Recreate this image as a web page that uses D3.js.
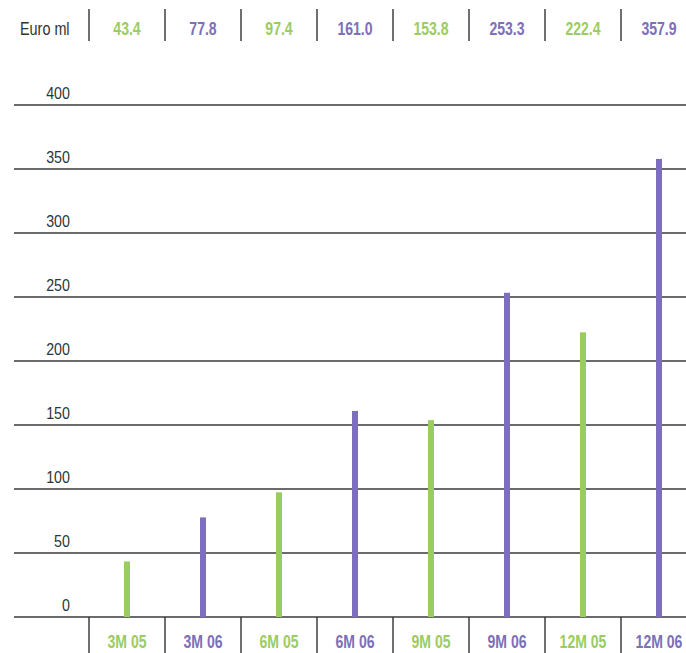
<!DOCTYPE html>
<html>
<head>
<meta charset="utf-8">
<script src="https://cdn.jsdelivr.net/npm/d3@7"></script>
<style>
  html, body { margin: 0; padding: 0; background: #fff; }
  svg { display: block; }
  text { font-family: "Liberation Sans", Arial, sans-serif; }
</style>
</head>
<body>
<svg id="chart" width="686" height="653"></svg>
<script>
// Revenue by period, euro millions
const categories = ["3M 05", "3M 06", "6M 05", "6M 06", "9M 05", "9M 06", "12M 05", "12M 06"];
const values = [43.4, 77.8, 97.4, 161.0, 153.8, 253.3, 222.4, 357.9];
const yTicks = [0, 50, 100, 150, 200, 250, 300, 350, 400];
const unitLabel = "Euro ml";

const GREEN = "#9bcc62";
const PURPLE = "#7d6fb9";
const colorOf = i => (i % 2 === 0 ? GREEN : PURPLE);

const svg = d3.select("#chart");
const W = 686;

// condensed look: horizontally squeezed text
const REG_SX = 0.84;
const BOLD_SX = 0.74;

const x = d3.scaleBand().domain(categories).range([89, 697]).paddingInner(0).paddingOuter(0);
const y = d3.scaleLinear().domain([0, 400]).range([617, 105]);
const mid = c => x(c) + x.bandwidth() / 2;

// horizontal gridlines
svg.append("g").selectAll("line").data(yTicks).join("line")
  .attr("x1", 14).attr("x2", W)
  .attr("y1", d => y(d)).attr("y2", d => y(d))
  .attr("stroke", "#3a3a3a").attr("stroke-width", 1.4);

// tick labels
svg.append("g").selectAll("text").data(yTicks).join("text")
  .attr("transform", d => `translate(70,${y(d) - 6.5}) scale(${REG_SX},1)`)
  .attr("text-anchor", "end")
  .attr("font-size", 17)
  .attr("fill", "#333")
  .text(d => d);

// bars
const bw = 6;
svg.append("g").selectAll("rect").data(values).join("rect")
  .attr("x", (d, i) => mid(categories[i]) - bw / 2)
  .attr("width", bw)
  .attr("y", d => y(d))
  .attr("height", d => y(0) - y(d))
  .attr("fill", (d, i) => colorOf(i));

// separators: top header row and bottom category row
const seps = categories.map(c => x(c));
svg.append("g").selectAll("line").data(seps).join("line")
  .attr("x1", d => d).attr("x2", d => d)
  .attr("y1", 9).attr("y2", 41)
  .attr("stroke", "#333").attr("stroke-width", 1.4);
svg.append("g").selectAll("line").data(seps).join("line")
  .attr("x1", d => d).attr("x2", d => d)
  .attr("y1", 617).attr("y2", 653)
  .attr("stroke", "#333").attr("stroke-width", 1.4);

// header: unit and values
svg.append("text")
  .attr("transform", `translate(20,35) scale(0.8,1)`)
  .attr("font-size", 18).attr("fill", "#333")
  .text(unitLabel);

svg.append("g").selectAll("text").data(values).join("text")
  .attr("transform", (d, i) => `translate(${mid(categories[i])},35) scale(${BOLD_SX},1)`)
  .attr("text-anchor", "middle")
  .attr("font-size", 19).attr("font-weight", "bold")
  .attr("fill", (d, i) => colorOf(i))
  .text(d => d.toFixed(1));

// category labels
svg.append("g").selectAll("text").data(categories).join("text")
  .attr("transform", (d, i) => `translate(${mid(d)},648) scale(${BOLD_SX},1)`)
  .attr("text-anchor", "middle")
  .attr("font-size", 19).attr("font-weight", "bold")
  .attr("fill", (d, i) => colorOf(i))
  .text(d => d);
</script>
</body>
</html>
